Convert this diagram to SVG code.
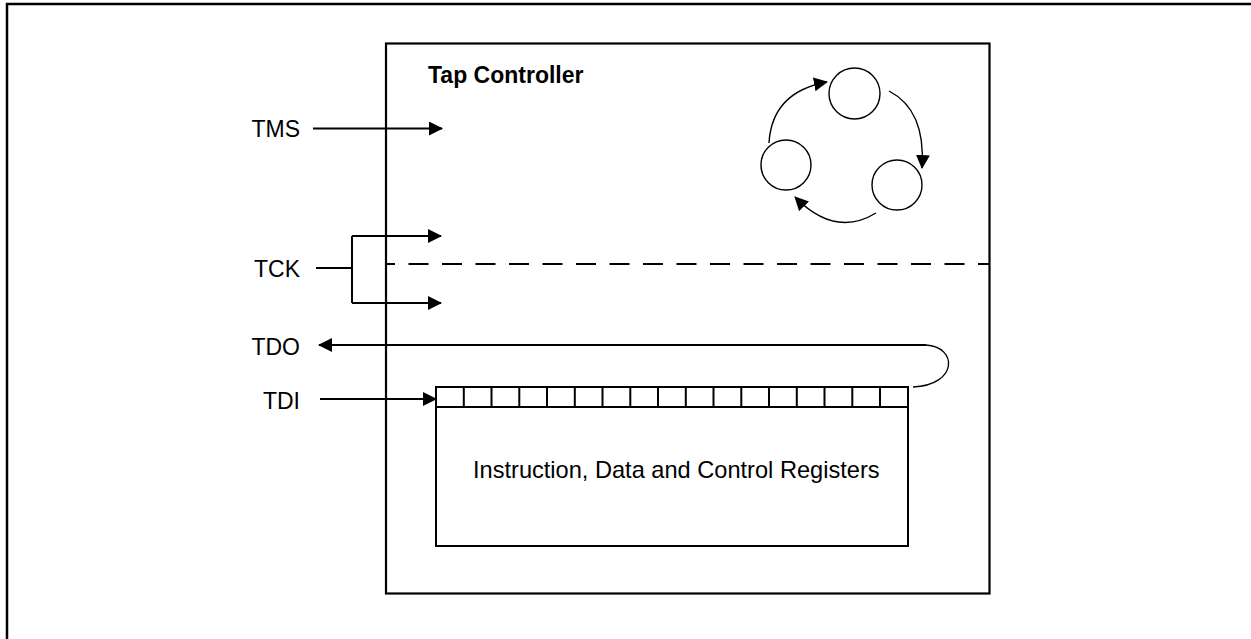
<svg xmlns="http://www.w3.org/2000/svg" width="1251" height="639" viewBox="0 0 1251 639">
<defs>
<style>
.ln{stroke:#000;stroke-width:2;fill:none}
.thin{stroke:#000;stroke-width:1.4;fill:none}
.lbl{font-family:"Liberation Sans",Arial,sans-serif;font-size:23px;fill:#000}
</style>
<marker id="ah" markerUnits="userSpaceOnUse" markerWidth="14" markerHeight="14" refX="13" refY="7" orient="auto">
<path d="M0,0 L14,7 L0,14 z" fill="#000"/>
</marker>
</defs>
<rect width="1251" height="639" fill="#fff"/>
<rect id="frame" x="7" y="4" width="1300" height="700" fill="none" stroke="#000" stroke-width="2.5"/>
<g id="tap-controller">
<rect x="386" y="43.5" width="603.5" height="550" fill="none" stroke="#000" stroke-width="2.2"/>
<text class="lbl" x="428" y="83" font-weight="bold">Tap Controller</text>
</g>
<g id="state-machine">
<circle cx="854.5" cy="93.5" r="25.5" class="thin"/>
<circle cx="786" cy="165" r="25" class="thin"/>
<circle cx="897" cy="185" r="25" class="thin"/>
</g>
<g id="registers">
<rect x="436" y="387" width="472" height="159" class="ln"/>
<path class="ln" d="M436,407 H908 M463.8,387 V407 M491.5,387 V407 M519.3,387 V407 M547,387 V407 M574.8,387 V407 M602.5,387 V407 M630.3,387 V407 M658,387 V407 M685.8,387 V407 M713.5,387 V407 M741.3,387 V407 M769,387 V407 M796.8,387 V407 M824.5,387 V407 M852.3,387 V407 M880,387 V407"/>
<text class="lbl" x="473" y="478" style="font-size:23.6px">Instruction, Data and Control Registers</text>
</g>
<g id="labels">
<text class="lbl" x="300" y="136.5" text-anchor="end">TMS</text>
<text class="lbl" x="300" y="277" text-anchor="end">TCK</text>
<text class="lbl" x="300" y="355" text-anchor="end">TDO</text>
<text class="lbl" x="300" y="409" text-anchor="end">TDI</text>
</g>
<g id="connectors">
<path class="ln" d="M313,128.5 H442" marker-end="url(#ah)"/>
<path class="ln" d="M316,268 H352 M352,236 V303"/>
<path class="ln" d="M352,236 H441" marker-end="url(#ah)"/>
<path class="ln" d="M352,303 H441" marker-end="url(#ah)"/>
<path class="ln" d="M386,264 H990" stroke-dasharray="20 13.5" stroke-dashoffset="11"/>
<path class="ln" d="M926,345 H319" marker-end="url(#ah)"/>
<path class="thin" d="M926,345 C958,347 958,385 913,387"/>
<path class="ln" d="M320,399 H436" marker-end="url(#ah)"/>
<path class="thin" d="M769,143 Q772,92 827,82" marker-end="url(#ah)"/>
<path class="thin" d="M889,91 Q926,110 922,168" marker-end="url(#ah)"/>
<path class="thin" d="M876,213 Q835,238 795,197" marker-end="url(#ah)"/>
</g>
</svg>
